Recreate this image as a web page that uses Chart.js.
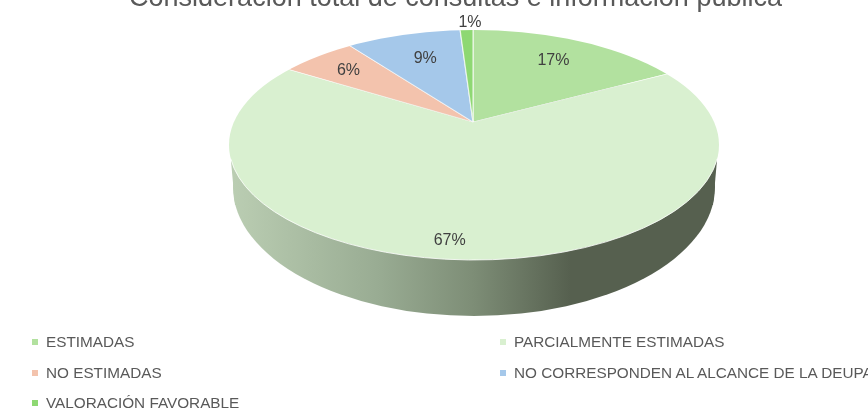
<!DOCTYPE html>
<html>
<head>
<meta charset="utf-8">
<script src="https://cdn.jsdelivr.net/npm/chart.js@4"></script>
<style>
  html, body { margin: 0; padding: 0; background: #fff; overflow: hidden; }
  #wrap { position: relative; width: 868px; height: 413px; overflow: hidden; }
  #leyenda {
    position: absolute; left: 32px; top: 327px; width: 836px;
    display: grid; grid-template-columns: 468px 368px; grid-auto-rows: 30.5px;
    font: 15.3px "Liberation Sans", sans-serif; color: #595959;
  }
  #leyenda div { display: flex; align-items: center; white-space: nowrap; overflow: hidden; }
  #leyenda i { width: 6px; height: 6px; margin-right: 8px; flex: none; }
</style>
</head>
<body>
<div id="wrap">
  <canvas id="grafico" width="868" height="413"></canvas>
  <div id="leyenda"></div>
</div>
<script>
const titulo = "Consideración total de consultas e información pública";
const categorias = ["ESTIMADAS", "PARCIALMENTE ESTIMADAS", "NO ESTIMADAS", "NO CORRESPONDEN AL ALCANCE DE LA DEUPA", "VALORACIÓN FAVORABLE"];
const valores = [17, 67, 6, 9, 1];
const colores = ["#b2e19f", "#d9f0d0", "#f3c3ad", "#a5c8ea", "#8ed873"];

// distancia de cada etiqueta desde el vertice, antes de aplastar
const radioEtiqueta = [158, 264, 168, 150, 222];
const ajusteEtiqueta = [0, -15, -2, 3, 4];

// geometria del "3D": la tapa es una elipse y el vertice queda por encima de su centro
const vertice = { x: 473, y: 122 };
const aplaste = 0.45;
const tapa = { x: 474, y: 145, rx: 245, ry: 115 };
const base = { x: 474, y: 187, rx: 241, ry: 129 };

const pastel3d = {
  id: "pastel3d",
  beforeDatasetsDraw(chart) {
    const ctx = chart.ctx;
    const arco = chart.getDatasetMeta(0).data[0];

    // pared lateral
    const grad = ctx.createLinearGradient(base.x - base.rx, 0, base.x + base.rx, 0);
    grad.addColorStop(0, "#bacdb2");
    grad.addColorStop(0.3, "#99ac93");
    grad.addColorStop(0.5, "#7d8d76");
    grad.addColorStop(0.7, "#56604f");
    grad.addColorStop(1, "#56604f");
    ctx.save();
    ctx.fillStyle = grad;
    ctx.beginPath();
    ctx.ellipse(base.x, base.y, base.rx, base.ry, 0, 0, Math.PI * 2);
    ctx.fill();
    // los costados bajan casi rectos
    ctx.beginPath();
    ctx.moveTo(231, 161);
    ctx.lineTo(717, 160);
    ctx.lineTo(713, 205);
    ctx.lineTo(235, 205);
    ctx.closePath();
    ctx.fill();
    ctx.restore();

    // la tapa: se dibuja el pastel grande y se recorta con la elipse
    const escala = 600 / arco.outerRadius;
    ctx.save();
    ctx.beginPath();
    ctx.ellipse(tapa.x, tapa.y, tapa.rx, tapa.ry, 0, 0, Math.PI * 2);
    ctx.clip();
    ctx.translate(vertice.x, vertice.y);
    ctx.scale(escala, escala * aplaste);
    ctx.translate(-arco.x, -arco.y);
  },
  afterDatasetsDraw(chart) {
    const ctx = chart.ctx;
    ctx.restore();

    // filo claro entre tapa y pared
    ctx.save();
    ctx.strokeStyle = "rgba(255,255,255,0.8)";
    ctx.lineWidth = 1;
    ctx.beginPath();
    ctx.ellipse(tapa.x, tapa.y, tapa.rx, tapa.ry, 0, 0.12, Math.PI - 0.12);
    ctx.stroke();

    // etiquetas de porcentaje
    ctx.font = '16px "Liberation Sans", sans-serif';
    ctx.fillStyle = "#404040";
    ctx.textAlign = "center";
    ctx.textBaseline = "middle";
    chart.getDatasetMeta(0).data.forEach((arco, i) => {
      const medio = (arco.startAngle + arco.endAngle) / 2;
      const x = vertice.x + radioEtiqueta[i] * Math.cos(medio) + ajusteEtiqueta[i];
      const y = vertice.y + radioEtiqueta[i] * Math.sin(medio) * aplaste;
      ctx.fillText(valores[i] + "%", x, y);
    });
    ctx.restore();
  }
};

new Chart(document.getElementById("grafico"), {
  type: "pie",
  data: {
    labels: categorias,
    datasets: [{
      data: valores,
      backgroundColor: colores,
      borderColor: "rgba(255,255,255,0.7)",
      borderWidth: 0.4
    }]
  },
  options: {
    responsive: false,
    animation: false,
    layout: { padding: { left: 43 } },
    plugins: {
      legend: { display: false },
      tooltip: { enabled: false },
      title: {
        display: true,
        text: titulo,
        color: "#595959",
        font: { family: '"Liberation Sans", sans-serif', size: 27, weight: "normal" },
        padding: { top: -17.5, bottom: 0 }
      }
    }
  },
  plugins: [pastel3d]
});

// leyenda en dos columnas como en el original
const leyenda = document.getElementById("leyenda");
categorias.forEach((nombre, i) => {
  const fila = document.createElement("div");
  const cuadro = document.createElement("i");
  cuadro.style.background = colores[i];
  fila.appendChild(cuadro);
  fila.appendChild(document.createTextNode(nombre));
  leyenda.appendChild(fila);
});
</script>
</body>
</html>
